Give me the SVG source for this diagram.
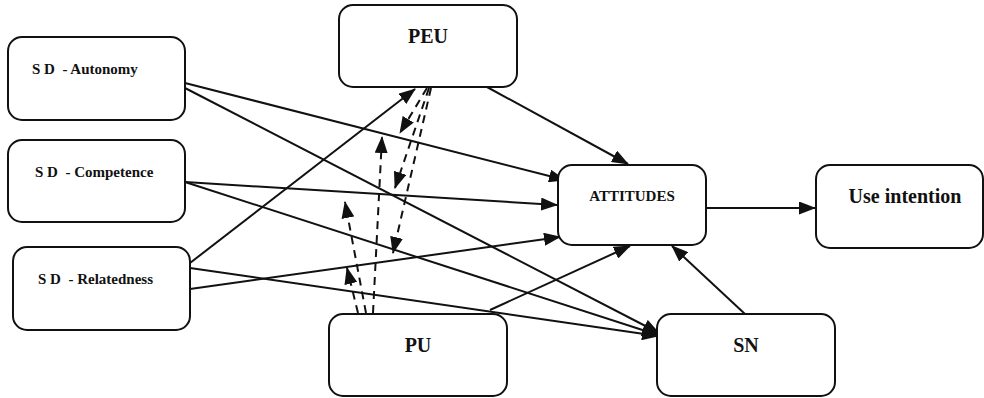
<svg xmlns="http://www.w3.org/2000/svg" width="984" height="398" viewBox="0 0 984 398">
<style>
.box{fill:#fff;stroke:#111;stroke-width:2}
.t{font-family:"Liberation Serif","Times New Roman",serif;font-weight:bold;fill:#111}
.sd{font-size:15px;white-space:pre}
.big{font-size:20px;text-anchor:middle}
.mid{font-size:15px;text-anchor:middle}
.c{stroke:#111;stroke-width:2;fill:none}
.d{stroke-dasharray:8,6}
</style>
<defs>
<marker id="ah" markerUnits="userSpaceOnUse" markerWidth="17" markerHeight="13" refX="16" refY="6.5" orient="auto">
<path d="M0,0 L17,6.5 L0,13 z" fill="#111"/>
</marker>
</defs>
<rect width="984" height="398" fill="#fff"/>
<g id="connectors">
<line class="c" x1="185" y1="83" x2="565" y2="180" marker-end="url(#ah)"/>
<line class="c" x1="185" y1="88" x2="659" y2="333" marker-end="url(#ah)"/>
<line class="c" x1="185" y1="182" x2="557" y2="205" marker-end="url(#ah)"/>
<line class="c" x1="185" y1="182" x2="658" y2="335" marker-end="url(#ah)"/>
<line class="c" x1="190" y1="263" x2="415" y2="89" marker-end="url(#ah)"/>
<line class="c" x1="190" y1="289" x2="560" y2="237" marker-end="url(#ah)"/>
<line class="c" x1="190" y1="268" x2="658" y2="336" marker-end="url(#ah)"/>
<line class="c" x1="487" y1="87" x2="628" y2="164" marker-end="url(#ah)"/>
<line class="c" x1="490" y1="310" x2="630" y2="246" marker-end="url(#ah)"/>
<line class="c" x1="745" y1="314" x2="672" y2="246" marker-end="url(#ah)"/>
<line class="c" x1="706" y1="208" x2="815" y2="208" marker-end="url(#ah)"/>
<line class="c d" x1="358" y1="313" x2="347" y2="268" marker-end="url(#ah)"/>
<line class="c d" x1="366" y1="313" x2="345" y2="202" marker-end="url(#ah)"/>
<line class="c d" x1="373" y1="313" x2="382" y2="137" marker-end="url(#ah)"/>
<line class="c d" x1="427" y1="88" x2="400" y2="133" marker-end="url(#ah)"/>
<line class="c d" x1="429" y1="88" x2="395" y2="188" marker-end="url(#ah)"/>
<line class="c d" x1="431" y1="88" x2="393" y2="253" marker-end="url(#ah)"/>
</g>
<g id="sd-autonomy"><rect class="box" x="8" y="37" width="177" height="83" rx="14"/><text class="t sd" x="32" y="74">S D  - Autonomy</text></g>
<g id="sd-competence"><rect class="box" x="8" y="140" width="177" height="82" rx="14"/><text class="t sd" x="35" y="177">S D  - Competence</text></g>
<g id="sd-relatedness"><rect class="box" x="13" y="247" width="177" height="83" rx="14"/><text class="t sd" x="38" y="284">S D  - Relatedness</text></g>
<g id="peu"><rect class="box" x="339" y="5" width="178" height="82" rx="14"/><text class="t big" x="428" y="43">PEU</text></g>
<g id="attitudes"><rect class="box" x="558" y="165" width="148" height="80" rx="14"/><text class="t mid" x="632" y="201">ATTITUDES</text></g>
<g id="use-intention"><rect class="box" x="816" y="165" width="167" height="83" rx="14"/><text class="t big" x="905" y="203">Use intention</text></g>
<g id="pu"><rect class="box" x="329" y="314" width="178" height="82" rx="14"/><text class="t big" x="418" y="352">PU</text></g>
<g id="sn"><rect class="box" x="657" y="314" width="178" height="82" rx="14"/><text class="t big" x="746" y="352">SN</text></g>
</svg>
